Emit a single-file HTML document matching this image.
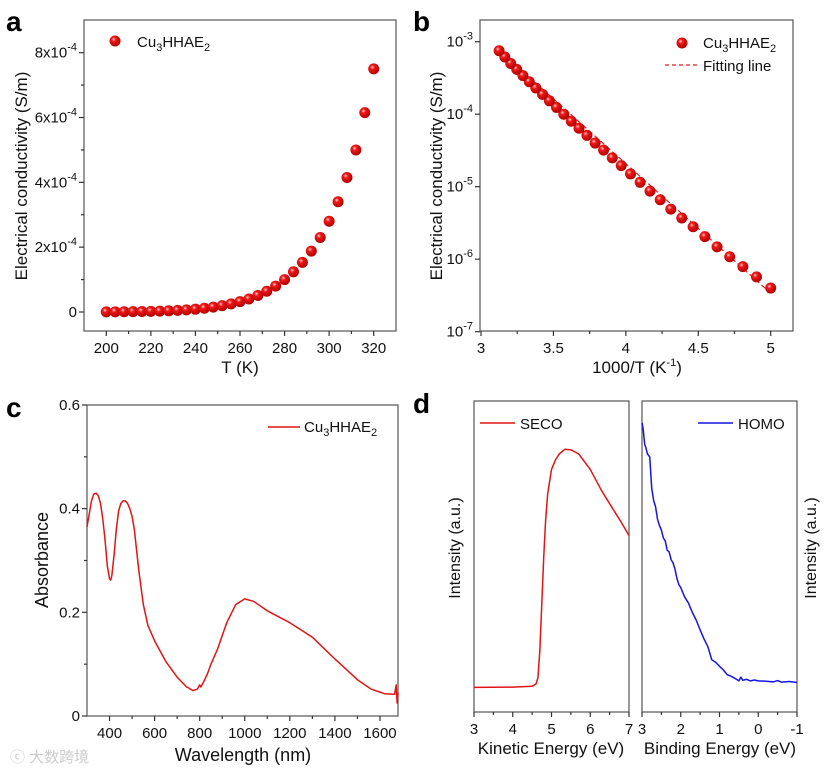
<!DOCTYPE html>
<html><head><meta charset="utf-8">
<style>
html,body{margin:0;padding:0;background:#fff;}
svg{display:block;font-family:"Liberation Sans",Arial,sans-serif;}
</style></head>
<body>
<svg id="fig" width="827" height="775" viewBox="0 0 827 775" xmlns="http://www.w3.org/2000/svg">
<defs>
<radialGradient id="ball" cx="0.38" cy="0.35" r="0.65">
<stop offset="0" stop-color="#ffd0d0"/><stop offset="0.3" stop-color="#f01818"/><stop offset="1" stop-color="#b00000"/>
</radialGradient>
</defs>
<text x="6" y="31" font-size="28" font-weight="bold">a</text>
<text x="413" y="31" font-size="28" font-weight="bold">b</text>
<text x="6" y="417" font-size="28" font-weight="bold">c</text>
<text x="413" y="413" font-size="28" font-weight="bold">d</text>
<text x="10" y="762" font-size="15" fill="#ccc" style="font-family:'Liberation Sans','Noto Sans CJK SC',sans-serif">ⓒ 大数跨境</text>
</svg>
<script>
// ---- data ----
const tempK = [200,204,208,212,216,220,224,228,232,236,240,244,248,252,256,260,264,268,272,276,280,284,288,292,296,300,304,308,312,316,320];
const sigma = [4.0e-7,5.7e-7,7.9e-7,1.08e-6,1.48e-6,2.05e-6,2.8e-6,3.7e-6,4.9e-6,6.6e-6,8.7e-6,1.15e-5,1.5e-5,1.95e-5,2.5e-5,3.2e-5,4.0e-5,5.1e-5,6.4e-5,8.0e-5,1.0e-4,1.24e-4,1.53e-4,1.88e-4,2.3e-4,2.8e-4,3.4e-4,4.15e-4,5.0e-4,6.15e-4,7.5e-4];
const fitX = [3.125,5.0];
const fitY = [7.6e-4,3.4e-7];
const uvWl = [300,310,320,330,340,350,360,370,380,390,400,405,410,420,430,440,450,460,470,480,490,500,510,520,530,550,570,600,650,700,740,770,790,800,805,820,835,850,880,920,960,1000,1040,1100,1200,1300,1400,1500,1560,1620,1665,1672,1676,1680];
const uvAbs = [0.365,0.39,0.415,0.428,0.43,0.425,0.41,0.38,0.34,0.29,0.265,0.262,0.27,0.31,0.36,0.395,0.41,0.415,0.415,0.41,0.40,0.385,0.36,0.32,0.28,0.215,0.175,0.145,0.105,0.075,0.057,0.049,0.052,0.06,0.056,0.068,0.082,0.10,0.13,0.18,0.215,0.226,0.221,0.203,0.18,0.152,0.11,0.07,0.052,0.043,0.042,0.06,0.025,0.045];
const secoE = [3,4,4.5,4.6,4.65,4.7,4.75,4.8,4.85,4.9,5.0,5.1,5.2,5.35,5.5,5.7,6.0,6.3,6.6,6.8,7];
const secoI = [0.079,0.08,0.083,0.09,0.11,0.2,0.35,0.5,0.62,0.7,0.78,0.81,0.83,0.845,0.843,0.83,0.78,0.71,0.65,0.61,0.567];
const homoE = [3,2.97,2.93,2.9,2.86,2.8,2.75,2.7,2.65,2.6,2.55,2.5,2.45,2.4,2.35,2.3,2.25,2.2,2.15,2.1,2.05,2.0,1.9,1.8,1.7,1.6,1.5,1.4,1.3,1.2,1.1,1.0,0.9,0.8,0.7,0.6,0.5,0.45,0.4,0.3,0.2,0.1,0,-0.2,-0.4,-0.5,-0.6,-0.8,-1];
const homoI = [0.93,0.91,0.86,0.85,0.83,0.82,0.72,0.68,0.66,0.62,0.60,0.585,0.56,0.55,0.52,0.515,0.49,0.48,0.46,0.43,0.41,0.40,0.37,0.35,0.32,0.295,0.264,0.235,0.21,0.168,0.16,0.147,0.135,0.12,0.115,0.108,0.10,0.112,0.102,0.105,0.10,0.103,0.10,0.099,0.097,0.101,0.096,0.098,0.095];
const aTicks = [200,220,240,260,280,300,320];
const aYTicks = [0,2e-4,4e-4,6e-4,8e-4];
const aYLabels = ["0","2x10","4x10","6x10","8x10"];
const bTicks = [3,3.5,4,4.5,5];
const bYExp = [-7,-6,-5,-4,-3];
const cTicks = [400,600,800,1000,1200,1400,1600];
const cYTicks = [0,0.2,0.4,0.6];
const dTicksL = [3,4,5,6,7];
const dTicksR = [3,2,1,0,-1];

const svg = document.getElementById('fig');
const NS = 'http://www.w3.org/2000/svg';
function mk(tag, attrs, parent){const e=document.createElementNS(NS,tag);for(const k in attrs)e.setAttribute(k,attrs[k]);(parent||svg).appendChild(e);return e;}
function lin(d0,d1,r0,r1){return v=>r0+(v-d0)*(r1-r0)/(d1-d0);}
const TS=15, TT=17, LS=15;

function box(x0,y0,x1,y1,name){
  const r=mk('rect',{x:x0,y:y0,width:x1-x0,height:y1-y0,fill:'none',stroke:'#555','stroke-width':1.2});
  
  
}
function xtick(x,y,label,name,len){
  const l=mk('line',{x1:x,y1:y,x2:x,y2:y+(len||5),stroke:'#333','stroke-width':1.2});
  
  
  if(label!==null){const t=mk('text',{x:x,y:y+22,'font-size':TS,'text-anchor':'middle',fill:'#111'});t.textContent=label;
  
  }
}
function ytick(x,y,name,len){
  const l=mk('line',{x1:x,y1:y,x2:x-(len||5),y2:y,stroke:'#333','stroke-width':1.2});
  
  
}
function txt(x,y,s,size,name,rot,anchor){
  const t=mk('text',{x:x,y:y,'font-size':size,'text-anchor':anchor||'middle',fill:'#111'});
  if(rot)t.setAttribute('transform','rotate(-90 '+x+' '+y+')');
  t.innerHTML=s;
  
  
  return t;
}
function ball(x,y,name){
  const c=mk('circle',{cx:x,cy:y,r:5.5,fill:'url(#ball)'});
  
  
}
function path(xs,ys,fx,fy,color,name,extra){
  let d='';for(let i=0;i<xs.length;i++)d+=(i?'L':'M')+fx(xs[i]).toFixed(2)+' '+fy(ys[i]).toFixed(2);
  const p=mk('path',Object.assign({d:d,fill:'none',stroke:color,'stroke-width':1.5,'stroke-linejoin':'round'},extra||{}));
  
  
}
const CU='Cu<tspan dy="4" font-size="11">3</tspan><tspan dy="-4">HHAE</tspan><tspan dy="4" font-size="11">2</tspan>';

// ---- panel a ----
{
  const X0=84,X1=396,Y0=20,Y1=331;
  const fx=lin(190,330,X0,X1), fy=lin(0,8e-4,312,52.7);
  box(X0,Y0,X1,Y1,'panel-a-frame');
  aTicks.forEach(v=>xtick(fx(v),Y1,String(v),'a-x'));
  aTicks.slice(0,-1).forEach(v=>xtick(fx(v+10),Y1,null,'a-x-minor',3));
  aYTicks.forEach((v,i)=>{ytick(X0,fy(v),'a-y-tick');
    const s=i===0?'0':aYLabels[i]+'<tspan dy="-7" font-size="11">-4</tspan>';
    txt(X0-7,fy(v)+5,s,TS,'a-y-label',false,'end');
    if(i<aYTicks.length-1) ytick(X0,fy(v+1e-4),'a-y-minor',3);});
  tempK.forEach((t,i)=>ball(fx(t),fy(sigma[i]),'a-point'));
  txt(240,373,'T (K)',TT,'a-x-title');
  txt(27,176,'Electrical conductivity (S/m)',TT,'a-y-title',true);
  ball(115,41,'a-legend-marker');
  txt(137,47,CU,LS,'a-legend-label',false,'start');
}
// ---- panel b ----
{
  const X0=480,X1=793,Y0=20,Y1=331;
  const fx=lin(3,5,481,770.7), fyl=lin(-3,-7,41.7,331.7), fy=v=>fyl(Math.log10(v));
  box(X0,Y0,X1,Y1,'panel-b-frame');
  bTicks.forEach(v=>xtick(fx(v),Y1,String(v),'b-x'));
  bTicks.slice(0,-1).forEach(v=>xtick(fx(v+0.25),Y1,null,'b-x-minor',3));
  bYExp.forEach(e=>{ytick(X0,fyl(e),'b-y-tick');
    txt(X0-7,fyl(e)+5,'10<tspan dy="-7" font-size="11">'+e+'</tspan>',TS,'b-y-label',false,'end');});
  path(fitX,fitY,fx,fy,'#e02020','b-fitting-line',{'stroke-dasharray':'5 3','stroke-width':1.2});
  tempK.forEach((t,i)=>ball(fx(1000/t),fy(sigma[i]),'b-point'));
  txt(637,373,'1000/T (K<tspan dy="-7" font-size="11">-1</tspan><tspan dy="7">)</tspan>',TT,'b-x-title');
  txt(442,176,'Electrical conductivity (S/m)',TT,'b-y-title',true);
  ball(682,43,'b-legend-marker');
  txt(703,48,CU,LS,'b-legend-label',false,'start');
  const l=mk('line',{x1:665,y1:65,x2:700,y2:65,stroke:'#e02020','stroke-dasharray':'4 3','stroke-width':1.2});
  
  
  txt(703,71,'Fitting line',LS,'b-legend-fit-label',false,'start');
}
// ---- panel c ----
{
  const X0=87,X1=398,Y0=405,Y1=716;
  const fx=lin(300,1680,X0,X1), fy=lin(0,0.6,Y1,Y0);
  box(X0,Y0,X1,Y1,'panel-c-frame');
  cTicks.forEach(v=>xtick(fx(v),Y1,String(v),'c-x'));
  cTicks.forEach(v=>{if(v+100<1680)xtick(fx(v+100),Y1,null,'c-x-minor',3);});
  cYTicks.forEach(v=>{ytick(X0,fy(v),'c-y-tick');txt(X0-7,fy(v)+5,String(v),TS,'c-y-label',false,'end');
    if(v<0.6)ytick(X0,fy(v+0.1),'c-y-minor',3);});
  path(uvWl,uvAbs,fx,fy,'#e01515','c-absorbance-curve');
  txt(243,761,'Wavelength (nm)',TT+1,'c-x-title');
  txt(48,560,'Absorbance',TT+1,'c-y-title',true);
  const l=mk('line',{x1:268,y1:427,x2:300,y2:427,stroke:'#e01515','stroke-width':1.5});
  
  
  txt(304,432,CU,LS,'c-legend-label',false,'start');
}
// ---- panel d ----
{
  const Y0=401,Y1=712;
  const fy=lin(0,1,Y1,Y0);
  const fxL=lin(3,7,474,629), fxR=lin(3,-1,642,797);
  box(474,Y0,629,Y1,'panel-d-left-frame');
  box(642,Y0,797,Y1,'panel-d-right-frame');
  dTicksL.forEach(v=>{xtick(fxL(v),Y1,String(v),'d-left-x');if(v<7)xtick(fxL(v+0.5),Y1,null,'d-left-x-minor',3);});
  dTicksR.forEach(v=>{xtick(fxR(v),Y1,String(v),'d-right-x');if(v>-1)xtick(fxR(v-0.5),Y1,null,'d-right-x-minor',3);});
  path(secoE,secoI,fxL,fy,'#e01515','d-seco-curve');
  path(homoE,homoI,fxR,fy,'#1515e0','d-homo-curve');
  txt(551,754,'Kinetic Energy (eV)',TT,'d-left-x-title');
  txt(720,754,'Binding Energy (eV)',TT,'d-right-x-title');
  txt(460,548,'Intensity (a.u.)',TT-1,'d-left-y-title',true);
  txt(816,548,'Intensity (a.u.)',TT-1,'d-right-y-title',true);
  let l=mk('line',{x1:480,y1:423,x2:515,y2:423,stroke:'#e01515','stroke-width':1.5});
  
  
  txt(520,429,'SECO',LS,'d-seco-legend-label',false,'start');
  l=mk('line',{x1:698,y1:423,x2:733,y2:423,stroke:'#1515e0','stroke-width':1.5});
  
  
  txt(738,429,'HOMO',LS,'d-homo-legend-label',false,'start');
}
</script>
</body></html>
